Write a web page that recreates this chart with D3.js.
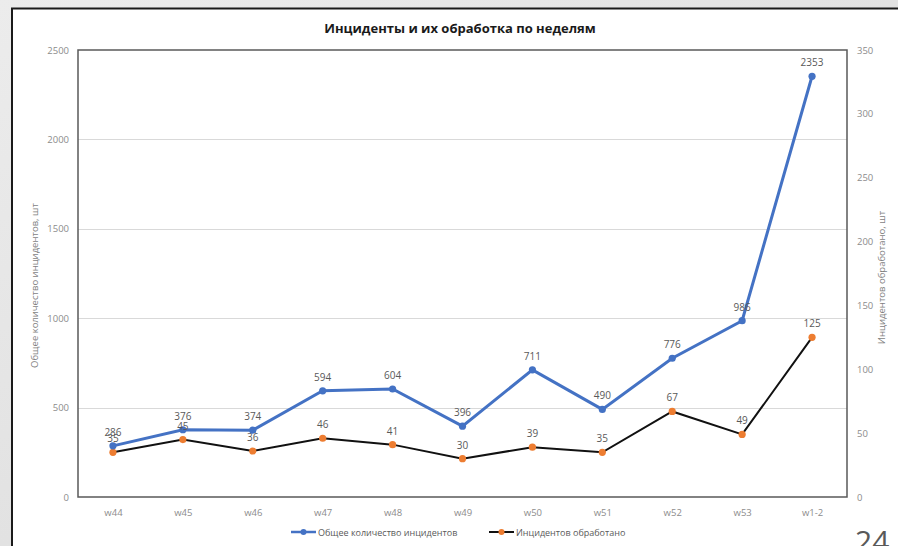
<!DOCTYPE html>
<html><head><meta charset="utf-8">
<script src="https://cdn.jsdelivr.net/npm/d3@7"></script>
<style>
html,body{margin:0;padding:0;background:#e4e4e4;}
svg{display:block;font-family:"Open Sans","Noto Sans",sans-serif;}
</style></head>
<body>
<svg id="c" width="898" height="546"></svg>
<script>
const categories = ["w44","w45","w46","w47","w48","w49","w50","w51","w52","w53","w1-2"];
const totalIncidents = [286,376,374,594,604,396,711,490,776,986,2353];
const processedIncidents = [35,45,36,46,41,30,39,35,67,49,125];
const leftTicks = [0,500,1000,1500,2000,2500];
const rightTicks = [0,50,100,150,200,250,300,350];
const title = "Инциденты и их обработка по неделям";
const leftTitle = "Общее количество инцидентов, шт";
const rightTitle = "Инцидентов обработано, шт";
const seriesNames = ["Общее количество инцидентов","Инцидентов обработано"];

const svg = d3.select("#c");
const defs = svg.append("defs");
const g0 = defs.append("linearGradient").attr("id","bg").attr("x1","0").attr("y1","0").attr("x2","1").attr("y2","1");
g0.append("stop").attr("offset","0").attr("stop-color","#ececec");
g0.append("stop").attr("offset","0.5").attr("stop-color","#e2e2e2");
g0.append("stop").attr("offset","1").attr("stop-color","#eaeaea");
svg.append("rect").attr("width",898).attr("height",546).attr("fill","url(#bg)");

// chart box
svg.append("rect").attr("x",12).attr("y",8.5).attr("width",900).attr("height",560)
  .attr("fill","#ffffff").attr("stroke","#1a1a1a").attr("stroke-width",2);

const L=78, R=847, T=50, B=497;
const x = d3.scalePoint().domain(categories).range([L,R]).padding(0.5);
const yL = d3.scaleLinear().domain([0,2500]).range([B,T]);
const yR = d3.scaleLinear().domain([0,350]).range([B,T]);

// gridlines
svg.append("g").selectAll("line").data(leftTicks.slice(1,-1)).join("line")
  .attr("x1",L).attr("x2",R).attr("y1",d=>Math.round(yL(d))+0.5).attr("y2",d=>Math.round(yL(d))+0.5)
  .attr("stroke","#d9d9d9").attr("stroke-width",1);

// plot border
svg.append("rect").attr("x",L).attr("y",T).attr("width",R-L).attr("height",B-T)
  .attr("fill","none").attr("stroke","#595959").attr("stroke-width",1.5);

// axes
const axL = d3.axisLeft(yL).tickValues(leftTicks).tickFormat(d3.format("d")).tickSize(0).tickPadding(9);
const gL = svg.append("g").attr("transform",`translate(${L},0)`).call(axL);
const axR = d3.axisRight(yR).tickValues(rightTicks).tickFormat(d3.format("d")).tickSize(0).tickPadding(10);
const gR = svg.append("g").attr("transform",`translate(${R},0)`).call(axR);
const axB = d3.axisBottom(x).tickSize(0).tickPadding(12);
const gB = svg.append("g").attr("transform",`translate(0,${B})`).call(axB);
[gL,gR,gB].forEach(g=>{
  g.select(".domain").remove();
  g.selectAll("text").attr("fill","#8c8c8c").style("font-size","9.5px").style("font-family","'Open Sans',sans-serif");
});

// title
svg.append("text").attr("x",460).attr("y",33).attr("text-anchor","middle")
  .style("font-size","13px").style("font-weight","bold").attr("fill","#1a1a1a").text(title);

// axis titles
svg.append("text").attr("transform",`translate(38,${(T+B)/2+12}) rotate(-90)`).attr("text-anchor","middle")
  .style("font-size","9.5px").attr("fill","#7f7f7f").text(leftTitle);
svg.append("text").attr("transform",`translate(885,${(T+B)/2+4}) rotate(-90)`).attr("text-anchor","middle")
  .style("font-size","9.5px").attr("fill","#7f7f7f").text(rightTitle);

// lines
const blue="#4472c4", orange="#ed7d31";
const lineL = d3.line().x((d,i)=>x(categories[i])).y(d=>yL(d));
const lineR = d3.line().x((d,i)=>x(categories[i])).y(d=>yR(d));
svg.append("path").datum(processedIncidents).attr("d",lineR).attr("fill","none").attr("stroke","#111").attr("stroke-width",2);
svg.append("g").selectAll("circle").data(processedIncidents).join("circle")
  .attr("cx",(d,i)=>x(categories[i])).attr("cy",d=>yR(d)).attr("r",3.6).attr("fill",orange);
svg.append("path").datum(totalIncidents).attr("d",lineL).attr("fill","none").attr("stroke",blue).attr("stroke-width",3);
svg.append("g").selectAll("circle").data(totalIncidents).join("circle")
  .attr("cx",(d,i)=>x(categories[i])).attr("cy",d=>yL(d)).attr("r",3.6).attr("fill",blue);

// data labels
svg.append("g").selectAll("text").data(processedIncidents).join("text")
  .attr("x",(d,i)=>x(categories[i])).attr("y",d=>yR(d)-10).attr("text-anchor","middle")
  .style("font-size","10px").attr("fill","#595959").text(d=>d);
svg.append("g").selectAll("text").data(totalIncidents).join("text")
  .attr("x",(d,i)=>x(categories[i])).attr("y",d=>yL(d)-10).attr("text-anchor","middle")
  .style("font-size","10px").attr("fill","#595959").text(d=>d);

// legend
const lg = svg.append("g").attr("transform","translate(0,532)");
lg.append("line").attr("x1",291).attr("x2",316).attr("y1",0).attr("y2",0).attr("stroke",blue).attr("stroke-width",2.5);
lg.append("circle").attr("cx",303.5).attr("cy",0).attr("r",3).attr("fill",blue);
lg.append("text").attr("x",318).attr("y",3.5).style("font-size","9px").attr("fill","#595959").text(seriesNames[0]);
lg.append("line").attr("x1",489).attr("x2",514).attr("y1",0).attr("y2",0).attr("stroke","#111").attr("stroke-width",2);
lg.append("circle").attr("cx",501.5).attr("cy",0).attr("r",3).attr("fill",orange);
lg.append("text").attr("x",516).attr("y",3.5).style("font-size","9px").attr("fill","#595959").text(seriesNames[1]);

// slide number (partially cut off at the bottom edge, as in the reference)
svg.append("text").attr("x",855).attr("y",552).style("font-size","30px").attr("fill","#595959")
  .style("font-family","'Open Sans',sans-serif").text("24");
</script>
</body></html>
